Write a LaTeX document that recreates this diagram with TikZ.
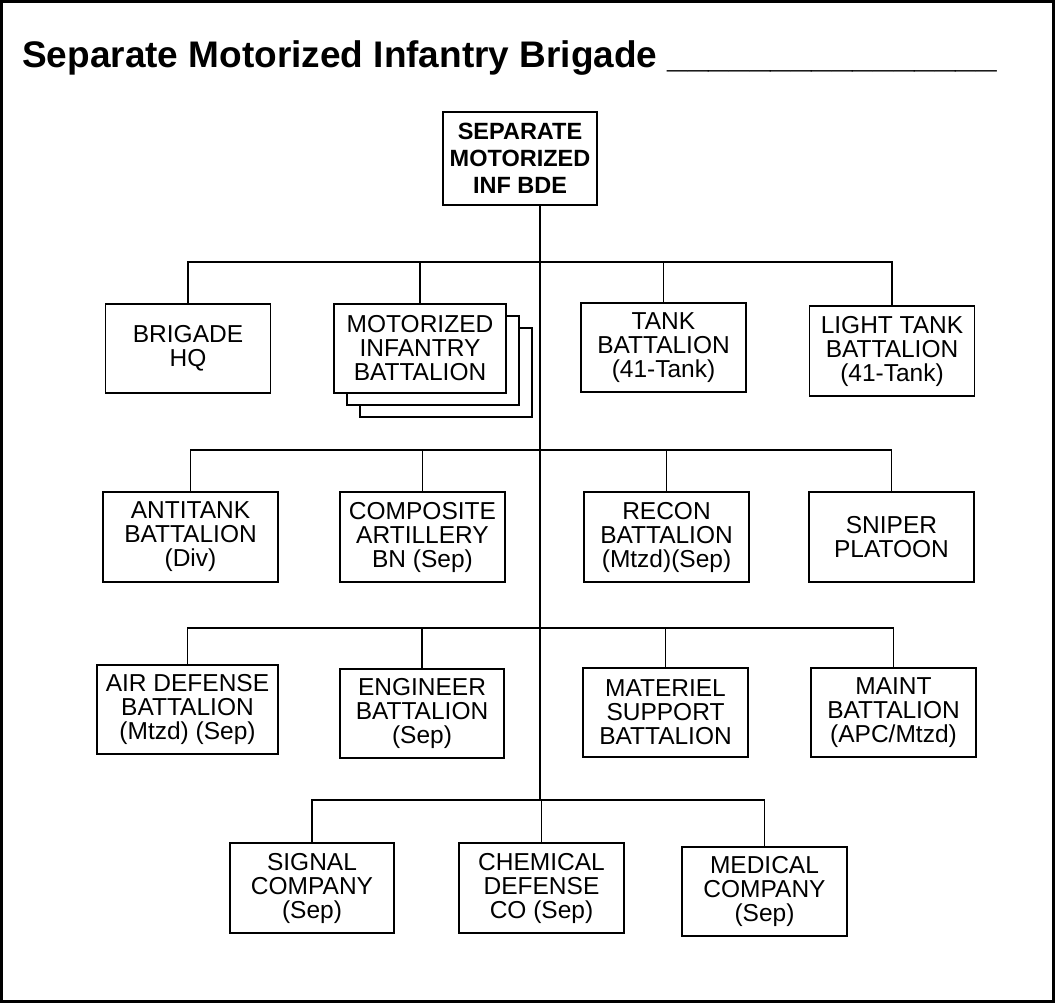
\documentclass[tikz,border=0pt]{standalone}
\usepackage{fontspec}
\setmainfont{Liberation Sans}
\begin{document}
\begin{tikzpicture}[x=1pt,y=-1pt,
  box/.style={draw=black, line width=1.3pt, fill=white, inner sep=0pt, align=center,
    font=\fontsize{24.5}{24}\selectfont, minimum width=165pt, minimum height=89pt},
  topbox/.style={box, font=\fontsize{23.5}{27}\bfseries\selectfont, minimum width=154pt, minimum height=93pt},
  conn/.style={line width=1.3pt, draw=black}]
\useasboundingbox (0,0) rectangle (1055,1003);
\draw[line width=3pt] (1.5,1.5) rectangle (1053.5,1001.5);
\node[anchor=base west, inner sep=0pt, font=\fontsize{37}{39}\bfseries\selectfont] (title) at (22,68)
  {Separate Motorized Infantry Brigade \_\_\_\_\_\_\_\_\_\_\_\_\_\_\_\_};
% junctions on the trunk
\coordinate (j1) at (540,262);
\coordinate (j2) at (540,450);
\coordinate (j3) at (540,628);
\coordinate (j4) at (540,800);
% top
\node[topbox] (top) at (520,158.5) {SEPARATE\\MOTORIZED\\INF BDE};
% row 1
\node[box] (hq) at (188,348.5) {BRIGADE\\HQ};
\node[box, minimum width=172pt] (mib3) at (446,372.5) {};
\node[box, minimum width=172pt] (mib2) at (433,360.5) {};
\node[box, minimum width=172pt] (mib) at (420,348.5) {MOTORIZED\\INFANTRY\\BATTALION};
\node[box] (tank) at (663.5,347.5) {TANK\\BATTALION\\(41-Tank)};
\node[box, minimum height=90pt] (light) at (892,351) {LIGHT TANK\\BATTALION\\(41-Tank)};
% row 2
\node[box, minimum width=175pt, minimum height=90pt] (antitank) at (190.5,537) {ANTITANK\\BATTALION\\(Div)};
\node[box, minimum height=90pt] (comp) at (422.5,537) {COMPOSITE\\ARTILLERY\\BN (Sep)};
\node[box, minimum height=90pt] (recon) at (666.5,537) {RECON\\BATTALION\\(Mtzd)(Sep)};
\node[box, minimum height=90pt] (sniper) at (891.5,537) {SNIPER\\PLATOON};
% row 3
\node[box, minimum width=181pt] (airdef) at (187.5,709.5) {AIR DEFENSE\\BATTALION\\(Mtzd) (Sep)};
\node[box, minimum width=164pt] (eng) at (422,713.5) {ENGINEER\\BATTALION\\(Sep)};
\node[box] (mat) at (665.5,712.5) {MATERIEL\\SUPPORT\\BATTALION};
\node[box] (maint) at (893.5,712.5) {MAINT\\BATTALION\\(APC/Mtzd)};
% row 4
\node[box, minimum width=164pt, minimum height=90pt] (signal) at (312,888) {SIGNAL\\COMPANY\\(Sep)};
\node[box, minimum height=90pt] (chem) at (541.5,888) {CHEMICAL\\DEFENSE\\CO (Sep)};
\node[box] (med) at (764.5,891.5) {MEDICAL\\COMPANY\\(Sep)};
% trunk
\draw[conn] (top.south -| j1) -- (j4);
% row 1 connectors
\draw[conn] (hq.north) |- (j1) -| (light.north);
\draw[conn] (mib.north) -- (mib.north |- j1);
\draw[conn] (tank.north) -- (tank.north |- j1);
% row 2
\draw[conn] (antitank.north) |- (j2) -| (sniper.north);
\draw[conn] (comp.north) -- (comp.north |- j2);
\draw[conn] (recon.north) -- (recon.north |- j2);
% row 3
\draw[conn] (airdef.north) |- (j3) -| (maint.north);
\draw[conn] (eng.north) -- (eng.north |- j3);
\draw[conn] (mat.north) -- (mat.north |- j3);
% row 4
\draw[conn] (signal.north) |- (j4) -| (med.north);
\draw[conn] (chem.north) -- (chem.north |- j4);
\end{tikzpicture}
\end{document}
